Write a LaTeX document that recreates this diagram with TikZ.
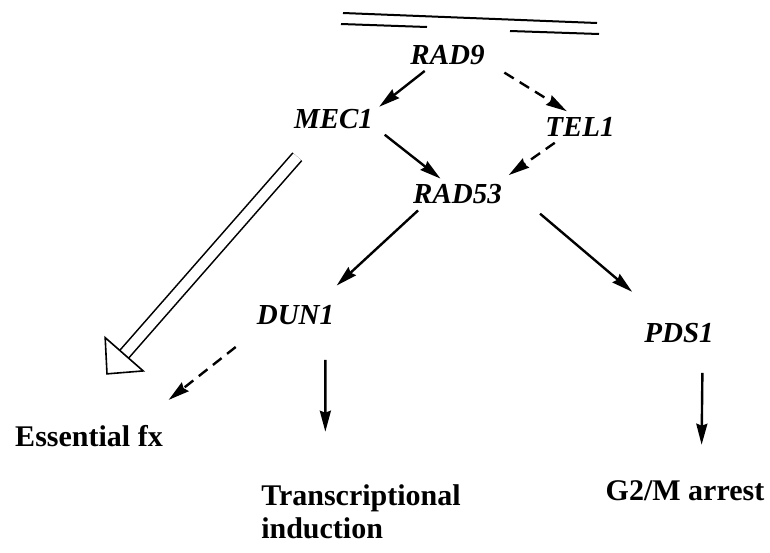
\documentclass[tikz,border=0pt]{standalone}
\usepackage{fontspec}
\setmainfont{Liberation Serif}
\usetikzlibrary{shapes, arrows, arrows.meta}

\begin{document}
\begin{tikzpicture}[x=1pt, y=-1pt]
            \tikzstyle{gene}=[inner sep=6pt, font=\fontsize{29}{30}\selectfont\bfseries\itshape]
            \tikzstyle{outcome}=[inner sep=6pt, align=left, font=\fontsize{30}{33}\selectfont\bfseries]
            \tikzstyle{act}=[line width=2.4pt, -{Stealth[length=21pt, width=11pt, inset=2pt]}]
            \tikzstyle{weak}=[act, dash pattern=on 11pt off 7pt]
            \tikzstyle{bypass}=[double, double distance=10pt, line width=1.6pt, -{Triangle[open, length=28pt, width=54pt]}]
            \useasboundingbox (0,0) rectangle (770,552);
            % broken double strand
            \draw[line width=2pt] (343,13) -- (597,23);
            \draw[line width=2pt] (341,24) -- (427,27);
            \draw[line width=2pt] (510,31) -- (599,34);
            % genes
            \node[gene] (rad9) at (447.5,55) {RAD9};
            \node[gene] (mec1) at (333.5,119) {MEC1};
            \node[gene] (tel1) at (580,127) {TEL1};
            \node[gene] (rad53) at (457.5,194.5) {RAD53};
            \node[gene] (dun1) at (295.5,315) {DUN1};
            \node[gene] (pds1) at (679,333) {PDS1};
            % outcomes
            \node[outcome] (fx) at (89,436) {Essential fx};
            \node[outcome] (trans) at (361,512) {Transcriptional\\induction};
            \node[outcome] (arrest) at (685,491) {G2/M arrest};
            % signalling
            \draw[act] (rad9.215) -- (mec1.15);
            \draw[weak, shorten <=16pt] (rad9.348) -- (tel1.130);
            \draw[act, shorten <=7pt] (mec1.346) -- (rad53.137);
            \draw[weak, shorten >=6pt] (tel1.212) -- (rad53.19);
            \draw[act, shorten >=20pt] (rad53.202) -- (dun1.31);
            \draw[act, shorten <=42pt, shorten >=39pt] (rad53.9) -- (pds1.137);
            \draw[weak, shorten <=26pt, shorten >=31pt] (dun1.202) -- (fx.17);
            \draw[act, shorten <=29pt, shorten >=47pt] (dun1.332) -- (trans.137.5);
            \draw[act, shorten <=24pt, shorten >=30pt] (pds1.326) -- (arrest.45);
            \draw[bypass, shorten <=29pt, shorten >=59pt] (mec1.223) -- (fx.142);
\end{tikzpicture}
\end{document}
